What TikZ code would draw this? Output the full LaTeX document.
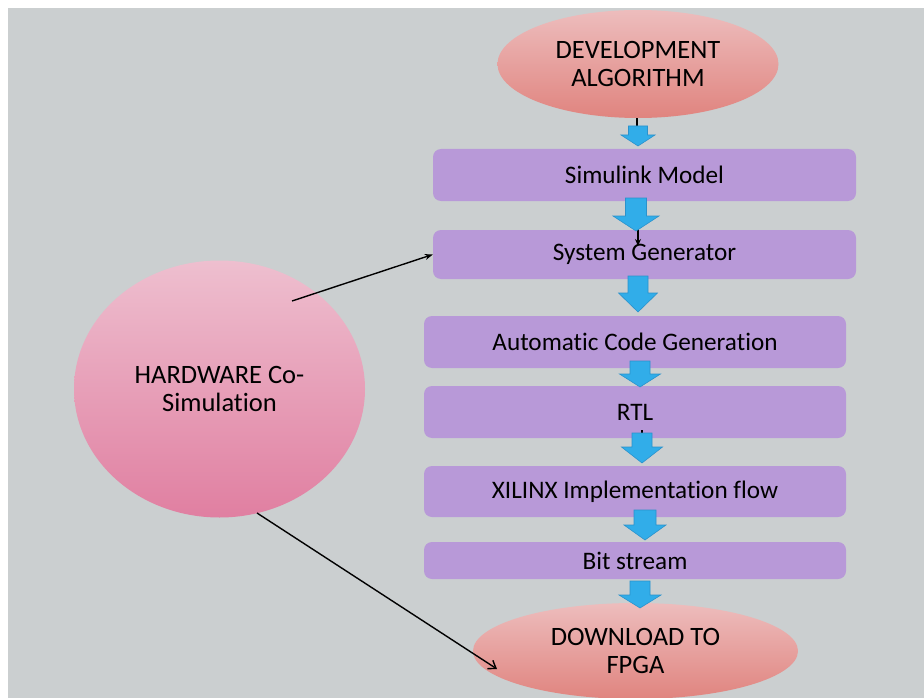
\documentclass[tikz,border=0pt]{standalone}
\usepackage{fontspec}
\setmainfont{Carlito}[Ligatures={NoCommon}]
\usetikzlibrary{shapes.geometric,arrows.meta}
\definecolor{bgcol}{HTML}{CBCFD0}
\definecolor{boxcol}{HTML}{B899D8}
\definecolor{arrfill}{HTML}{31ADE9}
\definecolor{arrdraw}{HTML}{2A92CC}
\definecolor{salmtop}{HTML}{EDBDBD}
\definecolor{salmbot}{HTML}{E0847F}
\definecolor{pinktop}{HTML}{EEBFCF}
\definecolor{pinkbot}{HTML}{E07FA1}
\tikzset{
  txt/.style={font=\fontsize{25.2}{27}\selectfont, text=black, align=center, inner sep=0pt},
  elltxt/.style={txt, font=\fontsize{26.5}{27.5}\selectfont},
  procbox/.style={txt, rectangle, rounded corners=8pt, fill=boxcol},
  salmell/.style={elltxt, ellipse, top color=salmtop, bottom color=salmbot},
  pinkell/.style={elltxt, ellipse, top color=pinktop, bottom color=pinkbot},
  blockarrow/.style={fill=arrfill, draw=arrdraw, line width=0.6pt, line join=miter},
  conn/.style={black, line width=1.4pt},
}
\newcommand{\barrow}[6]{%
  \filldraw[blockarrow] (#1-#5,#2) -- (#1+#5,#2) -- (#1+#5,#3) -- (#1+#6,#3)
    -- (#1,#4) -- (#1-#6,#3) -- (#1-#5,#3) -- cycle;}
\begin{document}
\begin{tikzpicture}[x=1pt,y=-1pt]
\useasboundingbox (0,0) rectangle (924,698);
\fill[white] (0,0) rectangle (924,698);
\fill[bgcol] (8,8) rectangle (924,698);

% nodes
\node[salmell, minimum width=281pt, minimum height=108pt] (dev) at (638,64) {DEVELOPMENT\\ALGORITHM};
\node[procbox, minimum width=423pt, minimum height=52pt] (sim) at (644.5,175) {Simulink Model};
\node[procbox, minimum width=423pt, minimum height=49pt] (sys) at (644.5,254.5) {System Generator};
\node[procbox, minimum width=422pt, minimum height=52pt] (acg) at (635,342) {Automatic Code Generation};
\node[procbox, minimum width=422pt, minimum height=52pt] (rtl) at (635,412) {RTL};
\node[procbox, minimum width=422pt, minimum height=51pt] (xil) at (635,491.5) {XILINX Implementation flow};
\node[procbox, minimum width=422pt, minimum height=37pt] (bit) at (635,560.5) {Bit stream};
\node[salmell, minimum width=325pt, minimum height=96pt] (dl) at (635.5,651) {DOWNLOAD TO\\FPGA};
\node[pinkell, minimum width=291pt, minimum height=257pt] (hw) at (219.5,389) {HARDWARE Co-\\Simulation};

% thin connectors under the block arrows
\coordinate (c1) at (637,126);
\coordinate (c2) at (638,246);
\coordinate (c3) at (642,430);
\coordinate (c4) at (642,458);
\draw[conn] (dev.south -| c1) -- (c1);
\draw[conn, -{Stealth[length=7pt,width=6pt]}] (sim.south -| c2) -- (c2);
\draw[conn] (c3) -- (c4);

% block arrows: cx, top, headstart, tip, shaft half width, head half width
\barrow{638}{126}{135}{146}{9.5}{17}
\barrow{636}{198}{216}{231}{10.5}{23}
\barrow{638}{276}{293}{312}{10}{19.5}
\barrow{640}{361}{374}{387}{10}{20.5}
\barrow{642}{433}{447}{463}{10}{20.5}
\barrow{645}{510}{525}{540}{11}{21}
\barrow{640}{581}{595}{608}{10}{21}

% hardware co-simulation links
\coordinate (h1) at (292,301);
\coordinate (h2) at (257,513);
\coordinate (d1) at (497,669);
\draw[conn, -{Stealth[length=8pt,width=6pt]}] (h1) -- (sys.west);
\draw[conn, -{Straight Barb[length=7pt,width=10pt]}] (h2) -- (d1);
\end{tikzpicture}
\end{document}
